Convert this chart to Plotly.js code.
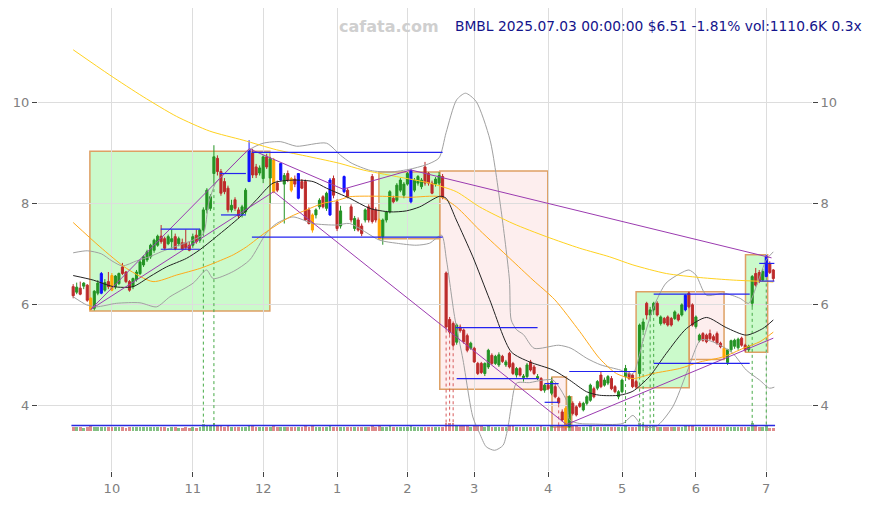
<!DOCTYPE html>
<html><head><meta charset="utf-8">
<script src="https://cdn.plot.ly/plotly-3.0.1.min.js"></script>
<style>html,body{margin:0;padding:0;background:#fff}#chart{width:871px;height:505px}</style>
</head><body><div id="chart"></div>
<script>
// ---- month ticks (trading-day index of first session of each month) ----
const monthTickIdx = [11, 34, 54, 75, 95, 114, 135, 156, 177, 197];
const monthTickText = ['10','11','12','1','2','3','4','5','6','7'];
const priceTicks = [4, 6, 8, 10];

// ---- daily OHLC, BMBL 2024-09-16 .. 2025-07-03 (trading-day index 0..199) ----
const open = [
6.35,6.24,6.32,6.36,6.38,6.12,5.92,6.22,6.22,6.28,
6.45,6.57,6.35,6.41,6.74,6.64,6.45,6.35,6.49,6.61,
6.78,6.88,6.94,7.07,7.17,7.35,7.30,7.20,7.24,7.34,
7.20,7.22,7.22,7.17,7.17,7.37,7.27,7.47,7.87,7.90,
8.59,8.89,8.63,8.43,8.30,7.87,8.07,7.87,7.80,7.83,
8.43,9.00,8.72,8.60,8.49,8.92,8.50,8.86,8.40,8.46,
8.38,8.59,8.49,8.48,8.10,8.43,8.43,7.87,7.77,7.77,
7.93,8.13,7.90,7.77,8.49,8.03,7.55,8.23,8.26,7.93,
7.50,7.67,7.55,7.67,7.93,8.53,7.87,7.67,7.34,7.67,
7.83,8.10,8.06,8.26,8.16,8.38,8.03,8.26,8.40,8.33,
8.72,8.59,8.40,8.38,8.40,8.53,6.62,5.70,5.62,5.25,
5.55,5.49,5.38,5.13,5.13,4.83,4.83,4.63,4.76,4.99,
4.83,4.80,4.97,4.80,5.03,4.83,4.60,4.73,4.55,4.57,
4.86,4.76,4.53,4.53,4.30,4.40,4.24,4.37,4.14,3.87,
3.94,3.58,4.04,3.97,4.04,3.91,4.04,4.10,4.33,4.34,
4.60,4.40,4.44,4.53,4.37,4.17,4.27,4.57,4.63,4.60,
4.47,4.63,5.50,6.02,5.79,5.89,6.02,5.62,5.72,5.75,
5.72,5.72,5.79,5.79,5.89,6.22,5.99,5.56,5.29,5.42,
5.39,5.42,5.36,5.42,5.23,5.13,4.85,5.10,5.17,5.14,
5.33,5.19,5.10,6.02,6.61,6.63,6.48,6.55,6.81,6.68];
const high = [
6.40,6.43,6.45,6.44,6.40,6.14,6.28,6.48,6.64,6.50,
6.64,6.62,6.58,6.63,6.82,6.66,6.48,6.53,6.68,6.88,
6.97,7.08,7.20,7.30,7.38,7.57,7.34,7.38,7.48,7.40,
7.34,7.30,7.48,7.24,7.40,7.48,7.50,7.92,8.30,8.18,
9.15,8.95,8.68,8.50,8.35,8.07,8.12,7.92,7.97,8.30,
9.25,9.08,8.78,8.75,8.95,8.98,8.92,8.90,8.45,8.80,
8.60,8.65,8.52,8.55,8.60,8.48,8.47,7.92,7.80,7.90,
8.10,8.16,8.23,8.50,8.55,8.08,7.95,8.55,8.30,7.98,
7.75,7.72,7.60,7.90,7.98,8.58,7.92,7.70,7.70,7.85,
8.26,8.15,8.40,8.50,8.42,8.62,8.66,8.50,8.56,8.50,
8.82,8.62,8.45,8.52,8.62,8.58,6.65,5.75,5.66,5.62,
5.60,5.52,5.42,5.26,5.16,4.86,4.86,4.85,5.12,5.03,
5.00,5.05,5.00,4.90,5.06,4.86,4.76,4.76,4.62,4.84,
4.90,4.80,4.62,4.56,4.43,4.45,4.55,4.42,4.17,3.92,
3.98,4.20,4.08,4.00,4.08,4.07,4.20,4.43,4.37,4.50,
4.68,4.55,4.60,4.58,4.40,4.30,4.53,4.80,4.66,4.63,
4.50,5.62,5.72,6.05,5.95,6.05,6.06,5.78,5.75,5.78,
5.75,5.88,5.82,6.02,6.20,6.25,6.02,5.78,5.42,5.45,
5.42,5.50,5.40,5.46,5.26,5.16,5.12,5.30,5.32,5.34,
5.36,5.22,5.20,6.58,6.72,6.68,6.70,6.98,6.85,6.70];
const low = [
6.12,6.20,6.18,6.30,6.05,5.88,5.88,6.18,6.20,6.25,
6.30,6.26,6.30,6.38,6.58,6.42,6.25,6.30,6.45,6.58,
6.74,6.84,6.90,7.02,7.14,7.20,7.08,7.17,7.10,7.07,
7.15,7.08,7.08,7.05,7.12,7.20,7.22,7.40,7.80,7.85,
8.40,8.55,8.15,8.18,7.82,7.82,7.85,7.70,7.72,7.78,
8.43,8.50,8.50,8.55,8.40,8.68,8.00,8.20,8.22,8.44,
7.60,8.42,8.22,8.32,8.08,8.28,7.65,7.58,7.42,7.70,
7.88,7.90,7.85,7.75,8.10,7.45,7.50,8.20,8.10,7.62,
7.45,7.44,7.35,7.62,7.62,7.60,7.62,7.28,7.18,7.62,
7.80,8.00,8.03,8.22,8.10,8.35,8.00,8.22,8.35,8.28,
8.35,8.35,8.18,8.33,8.36,8.08,5.50,5.40,5.15,5.20,
5.44,5.22,5.05,5.10,4.84,4.60,4.62,4.58,4.72,4.80,
4.80,4.76,4.84,4.76,4.73,4.60,4.55,4.57,4.47,4.54,
4.67,4.60,4.50,4.28,4.25,4.30,4.20,4.14,4.02,3.68,
3.52,3.55,3.80,3.78,3.95,3.88,4.00,4.07,4.14,4.30,
4.34,4.37,4.40,4.30,4.24,4.12,4.24,4.54,4.50,4.34,
4.33,4.57,5.45,5.70,5.72,5.85,5.76,5.58,5.60,5.56,
5.56,5.69,5.66,5.76,5.86,5.92,5.56,5.52,5.25,5.26,
5.23,5.29,5.26,5.20,5.13,4.92,4.80,5.05,5.12,5.10,
5.16,5.06,5.06,5.95,6.35,6.42,6.45,6.53,6.60,6.46];
const close = [
6.17,6.34,6.20,6.42,6.08,5.90,6.26,6.42,6.61,6.43,
6.35,6.28,6.56,6.61,6.61,6.45,6.28,6.51,6.64,6.84,
6.94,7.04,7.17,7.27,7.35,7.24,7.11,7.34,7.30,7.10,
7.30,7.10,7.12,7.07,7.34,7.24,7.47,7.87,8.26,8.13,
8.92,8.63,8.20,8.23,7.87,7.96,7.90,7.75,7.93,8.26,
9.05,8.56,8.56,8.70,8.92,8.72,8.88,8.23,8.26,8.79,
8.55,8.46,8.26,8.38,8.59,8.30,7.67,7.60,7.47,7.87,
8.06,7.93,8.20,8.46,8.16,7.50,7.85,8.53,8.13,7.67,
7.70,7.47,7.40,7.87,7.67,7.64,7.67,7.30,7.67,7.83,
8.23,8.03,8.36,8.46,8.38,8.59,8.66,8.46,8.53,8.46,
8.40,8.40,8.20,8.48,8.55,8.12,5.55,5.45,5.19,5.59,
5.48,5.26,5.09,5.23,4.86,4.63,4.65,4.83,5.09,4.83,
4.97,5.00,4.87,4.86,4.76,4.63,4.73,4.60,4.58,4.80,
4.70,4.63,4.57,4.30,4.40,4.33,4.47,4.17,4.05,3.71,
3.56,4.17,3.84,3.81,3.98,4.04,4.17,4.40,4.17,4.47,
4.37,4.50,4.57,4.33,4.27,4.27,4.50,4.73,4.53,4.37,
4.37,5.59,5.65,5.79,5.89,6.02,5.79,5.75,5.63,5.59,
5.59,5.85,5.69,5.99,6.18,5.95,5.59,5.75,5.39,5.29,
5.26,5.32,5.29,5.23,5.16,4.95,5.10,5.28,5.29,5.31,
5.19,5.10,5.17,6.55,6.38,6.46,6.65,6.95,6.63,6.51];
// volume, thousands of shares
const volume = [
3200,2800,3100,2600,3900,5200,4100,3000,3800,2900,
2700,3300,2900,3100,2800,2600,3000,2700,3200,3600,
3400,3300,3900,3600,3500,3000,2800,2600,2700,2900,
2500,2600,2800,2400,2700,2600,3000,7800,6200,4500,
11500,6800,5200,4300,4600,3500,3300,3200,3100,4200,
7500,5100,3900,3400,4200,3600,3800,5400,3600,4100,
3500,3200,3900,3000,4300,3100,4800,4000,4400,3200,
3000,2900,3100,4700,3600,3900,3300,4100,3000,3500,
3100,3000,3200,3300,3400,5600,3800,4500,4200,3300,
4600,3000,3500,3600,3200,3700,4800,3300,3000,3100,
4000,3300,3500,3000,3200,4100,18500,12600,9800,7200,
5400,5000,5200,4300,5600,5100,4600,4000,4800,4200,
3800,3900,3600,3500,4400,4700,3900,3700,3600,4100,
3800,3700,3400,4900,4100,3800,4600,4200,5300,7400,
10800,9600,5500,5000,4200,3900,3700,4800,3600,3700,
4000,3300,3200,3500,3300,3600,3900,5200,3400,3800,
3500,14500,8200,7600,5100,5400,4300,3900,3600,3700,
3400,3600,3300,4000,4800,4500,5000,3900,4100,3200,
3100,3000,2900,3300,3100,4200,3900,3600,3200,3300,
3000,2900,2800,12200,6500,4300,3600,5200,2500,1110.6];

// highlighted candles
const blueIdx = [8, 50, 59, 64, 73, 77, 96, 174, 197];
const orangeIdx = [5, 11, 57, 62, 68, 87, 140, 185];

// ---- indicator lines (index, value) ----
const bbMidX = [0,5.7,11.4,17,21.8,26.5,32.2,36,40.7,47.4,52.1,56.8,62.5,68.2,72,78.6,84.3,90,94.7,98.5,104.2,106,108.9,113.6,118.4,124.5,129.7,136.4,141.1,145.9,149.6,155.3,159.1,163.8,168.6,174.3,180,185.6,191.3,196,199];
const bbMidY = [6.57,6.48,6.35,6.35,6.55,6.74,6.91,7.08,7.34,7.73,8.07,8.40,8.46,8.43,8.30,8.10,7.90,7.83,7.85,7.93,8.14,8.10,7.67,6.94,6.09,5.06,4.86,4.70,4.50,4.27,4.20,4.20,4.28,4.57,5.03,5.52,5.74,5.54,5.39,5.52,5.69];
const bbUpX = [0,4,8,11,14,18,22,25,30,34,37,38.5,40.5,44,50,54,59,63.5,72,76,79,84.5,90,96,101,104,106,109,111.5,114.5,118.5,121.5,124,124.5,126,128,131,138,141.5,146,150,155.5,159,162,165,168.5,172.5,175,177,180,185,189.5,192,194.5,197,199];
const bbUpY = [7.02,7.06,7.00,6.86,6.76,6.86,6.95,7.04,7.17,7.27,7.40,8.00,8.40,8.66,9.06,9.19,9.22,9.13,9.19,8.95,8.80,8.65,8.62,8.68,8.78,8.90,9.40,10.05,10.18,10.02,9.25,7.93,6.48,5.69,5.50,5.40,5.13,5.19,5.13,4.93,4.80,4.70,4.62,5.29,5.95,6.42,6.61,6.68,6.58,6.18,6.22,6.12,6.02,6.42,6.88,7.04];
const bbLowX = [0,3.8,6.6,12.3,19,23.7,27.5,34.1,37.9,39.8,45.5,50.2,54.9,57.8,62.5,68.2,74.8,78.6,87.1,91.9,97.5,101.3,104.7,106.1,108.4,110.8,113.6,115.5,117.4,119.8,122.2,123.6,124.5,126,129.7,133.5,136.4,140.2,141.1,144,147.7,156.2,159.1,161.9,165.7,170.4,174.3,178.2,179.8,182.8,187.5,191.3,195.1,197.9,199.3];
const bbLowY = [6.15,5.99,5.95,6.02,6.03,5.95,6.15,6.42,6.68,6.51,6.65,6.88,7.41,7.60,7.73,7.60,7.57,7.60,7.27,7.21,7.17,7.21,7.37,6.88,5.76,4.90,3.77,3.45,3.18,3.11,3.21,3.58,3.97,4.44,4.45,4.50,4.50,4.10,3.71,3.64,3.63,3.64,3.80,3.58,3.58,3.97,4.63,5.29,5.30,5.23,5.03,4.70,4.50,4.34,4.36];
const maMidX = [0,7.6,15.2,22.7,29.4,36,39.8,45.5,49.3,55,61.6,66.3,71,74.8,78.6,87.1,95.7,104.2,108.9,115.5,124.1,130.7,136.9,144,149.6,154.4,159.1,164.8,172.4,178.2,184.8,190.5,195.2,199];
const maMidY = [7.62,7.14,6.71,6.45,6.58,6.71,6.81,6.98,7.14,7.44,7.73,7.87,8.00,8.05,8.13,8.14,8.12,8.13,7.93,7.47,6.91,6.48,6.09,5.46,4.93,4.63,4.53,4.63,4.73,4.86,4.96,5.13,5.26,5.45];
const maLongX = [0,10.4,19.9,29.4,38.8,48.3,57.8,67.3,75.8,82.4,91.9,101.3,108.9,115.5,125,134.5,144,152.5,159.1,168.6,178.2,187.6,197,199];
const maLongY = [11.04,10.54,10.11,9.72,9.43,9.25,9.06,8.92,8.79,8.66,8.53,8.40,8.23,7.93,7.60,7.34,7.11,6.94,6.78,6.61,6.53,6.48,6.45,6.44];

// ---- trend lines (zigzag) ----
const trendX0 = [5, 5, 50, 76.7, 96, 57, 140.2];
const trendY0 = [5.90, 5.90, 9.08, 8.28, 8.66, 8.23, 3.62];
const trendX1 = [50, 57, 76.7, 96, 198.5, 140.2, 199];
const trendY1 = [9.08, 8.23, 8.28, 8.66, 6.92, 3.62, 5.33];

// ---- support / resistance levels ----
const levelX0 = [50.8, 41.7, 42, 24.9, 24.9, 50.8, 108.7, 109, 134, 134, 141, 165, 165, 195, 195];
const levelX1 = [105, 49.1, 49.1, 36, 36, 105, 132, 132.3, 138, 138, 160, 192.3, 192.3, 199.3, 199.3];
const levelY  = [9.01, 8.59, 7.77, 7.49, 7.09, 7.33, 5.54, 4.53, 4.43, 4.06, 4.67, 6.20, 4.83, 6.81, 6.46];
const baseLevel = 3.60;

// ---- trend boxes ----
const boxX0 = [4.75, 86.9, 104.2, 136.1, 140.2, 160.0, 175.1, 191.1];
const boxX1 = [55.9, 104.2, 134.9, 140.2, 141.7, 175.1, 185.0, 197.4];
const boxTop = [9.03, 8.62, 8.64, 4.56, 4.17, 6.25, 6.25, 6.98];
const boxBot = [5.87, 7.30, 4.32, 3.57, 3.57, 4.35, 4.91, 5.05];
const boxKind = ['up','up','down','down','up','up','down','up'];

// ---- high-volume markers ----
const markUpIdx = [37, 40, 157, 161, 162, 164, 165, 193, 197];
const markDownIdx = [106, 107, 108, 138, 140];

// ================= build =================
const N = close.length;
const xs = close.map((_, i) => i);
const blueSet = new Set(blueIdx), orangeSet = new Set(orangeIdx);
const normalIdx = xs.filter(i => !blueSet.has(i) && !orangeSet.has(i));
const GREEN = '#249324', RED = '#bd2b2b';

function candle(ids, incCol, decCol) {
  return {
    type: 'candlestick', x: ids,
    open: ids.map(i => open[i]), high: ids.map(i => high[i]),
    low: ids.map(i => low[i]), close: ids.map(i => close[i]),
    increasing: {line: {color: incCol, width: 1}, fillcolor: incCol},
    decreasing: {line: {color: decCol, width: 1}, fillcolor: decCol},
    whiskerwidth: 0, hoverinfo: 'skip', showlegend: false
  };
}
function line(x, y, color, width, dash, smooth) {
  return {type: 'scatter', mode: 'lines', x: x, y: y, hoverinfo: 'skip', showlegend: false,
          line: {color: color, width: width || 1, dash: dash || 'solid',
                 shape: smooth ? 'spline' : 'linear', smoothing: smooth ? 0.7 : undefined}};
}
function segments(x0, y0, x1, y1) {
  const X = [], Y = [];
  for (let k = 0; k < x0.length; k++) { X.push(x0[k], x1[k], null); Y.push(y0[k], y1[k], null); }
  return {X, Y};
}

const volAvg = volume.reduce((a, b) => a + b, 0) / N;
const volH = volume.map(v => 0.04 + 0.05 * Math.min(v / volAvg, 2.6));
const volCol = xs.map(i => close[i] >= open[i] ? 'rgba(90,170,90,0.75)' : 'rgba(210,100,100,0.75)');

const traces = [];
traces.push({type: 'bar', x: xs, y: volH, base: 3.49, width: 0.75,
  marker: {color: volCol, line: {width: 0}}, hoverinfo: 'skip', showlegend: false});

// marker verticals
const mu = segments(markUpIdx, markUpIdx.map(i => low[i]), markUpIdx, markUpIdx.map(() => baseLevel));
const md = segments(markDownIdx, markDownIdx.map(i => low[i]), markDownIdx, markDownIdx.map(() => baseLevel));
traces.push(line(mu.X, mu.Y, 'rgb(70,170,70)', 1, 'dot'));
traces.push(line(md.X, md.Y, 'rgb(215,90,90)', 1, 'dot'));

traces.push(line(bbUpX, bbUpY, '#a0a0a0', 1, null, true));
traces.push(line(bbLowX, bbLowY, '#a0a0a0', 1, null, true));
traces.push(line(maLongX, maLongY, '#ffd21f', 1, null, true));
traces.push(line(maMidX, maMidY, '#ffaa1a', 1, null, true));
traces.push(line(bbMidX, bbMidY, '#222222', 1, null, true));

const tz = segments(trendX0, trendY0, trendX1, trendY1);
traces.push(line(tz.X, tz.Y, '#9b3bb0', 1));
const lv = segments(levelX0, levelY, levelX1, levelY);
traces.push(line(lv.X, lv.Y, '#2323f0', 1.2));

traces.push(candle(normalIdx, GREEN, RED));
traces.push(candle(orangeIdx, '#ffa500', '#ffa500'));
traces.push(candle(blueIdx, '#1010ff', '#1010ff'));

// base level line on right axis (same scale)
const baseTrace = line([-0.5, N - 0.5], [baseLevel, baseLevel], '#2a2ae0', 1.6);
baseTrace.yaxis = 'y2';
traces.push(baseTrace);

const shapes = boxKind.map((k, j) => ({
  type: 'rect', xref: 'x', yref: 'y', layer: 'below',
  x0: boxX0[j], x1: boxX1[j], y0: boxBot[j], y1: boxTop[j],
  fillcolor: k === 'up' ? 'rgba(140,245,140,0.45)' : 'rgba(250,205,205,0.35)',
  line: {color: 'rgb(222,160,100)', width: 1.5}
}));

const yRange = [2.70, 11.867];
const tickFont = {family: 'DejaVu Sans, sans-serif', size: 13, color: '#808080'};
const layout = {
  width: 871, height: 505,
  margin: {l: 38, r: 59, t: 8, b: 34, pad: 0},
  paper_bgcolor: '#ffffff', plot_bgcolor: '#ffffff',
  showlegend: false, hovermode: false, dragmode: false,
  bargap: 0, boxgap: 0.15,
  xaxis: {range: [-10, 210], tickmode: 'array', tickvals: monthTickIdx, ticktext: monthTickText,
    showgrid: true, gridcolor: '#dddddd', gridwidth: 1, zeroline: false, showline: false,
    ticks: 'outside', ticklen: 5, tickcolor: '#444', tickfont: tickFont,
    rangeslider: {visible: false}, fixedrange: true},
  yaxis: {range: yRange, tickmode: 'array', tickvals: priceTicks, ticktext: priceTicks.map(String),
    showgrid: true, gridcolor: '#dddddd', gridwidth: 1, zeroline: false, showline: false,
    ticks: 'outside', ticklen: 5, tickcolor: '#444', tickfont: tickFont, fixedrange: true},
  yaxis2: {range: yRange, overlaying: 'y', side: 'right', tickmode: 'array', tickvals: priceTicks,
    ticktext: priceTicks.map(String), showgrid: false, zeroline: false, showline: false,
    ticks: 'outside', ticklen: 5, tickcolor: '#444', tickfont: tickFont, fixedrange: true},
  shapes: shapes,
  annotations: [
    {xref: 'paper', yref: 'paper', x: 0.4535, y: 0.961, xanchor: 'center', yanchor: 'middle',
     text: '<b>cafata.com</b>', showarrow: false,
     font: {family: 'DejaVu Sans, sans-serif', size: 16, color: '#cfcfcf'}},
    {xref: 'paper', yref: 'paper', x: 1.0672, y: 0.961, xanchor: 'right', yanchor: 'middle',
     text: 'BMBL 2025.07.03 00:00:00 $6.51 -1.81% vol:1110.6K 0.3x', showarrow: false,
     font: {family: 'DejaVu Sans, sans-serif', size: 13.8, color: '#14148c'}}
  ]
};
Plotly.newPlot('chart', traces, layout, {staticPlot: true, displayModeBar: false});
</script></body></html>
